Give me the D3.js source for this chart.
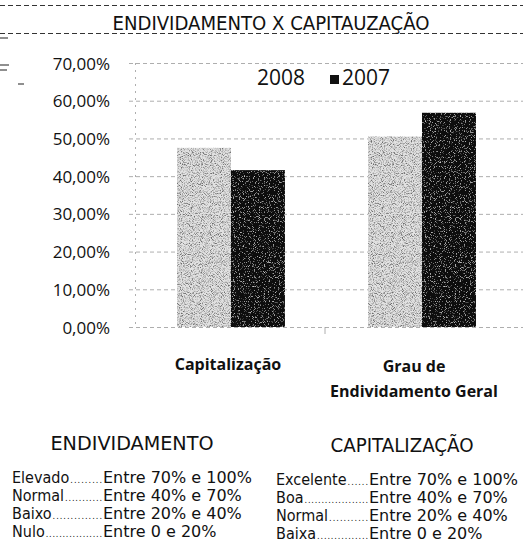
<!DOCTYPE html>
<html>
<head>
<meta charset="utf-8">
<script src="https://cdn.jsdelivr.net/npm/d3@7"></script>
<style>
  body { margin: 0; background: #fff; }
  svg { display: block; }
</style>
</head>
<body>
<div id="chart"></div>
<script>
// data
var categories = ["Capitalização", "Grau de Endividamento Geral"];
var catLines = [["Capitalização"], ["Grau de", "Endividamento Geral"]];
var years = ["2008", "2007"];
var values2008 = [0.475, 0.505];
var values2007 = [0.416, 0.568];
var yTicks = [0, 0.1, 0.2, 0.3, 0.4, 0.5, 0.6, 0.7];
var endivLabels = ["Elevado", "Normal", "Baixo", "Nulo"];
var endivRanges = ["Entre 70% e 100%", "Entre 40% e 70%", "Entre 20% e 40%", "Entre 0 e 20%"];
var capitLabels = ["Excelente", "Boa", "Normal", "Baixa"];
var capitRanges = ["Entre 70% e 100%", "Entre 40% e 70%", "Entre 20% e 40%", "Entre 0 e 20%"];

var w = 523, h = 549;
var svg = d3.select("#chart").append("svg").attr("width", w).attr("height", h);

var defs = svg.append("defs");
// grainy look of the scanned bars
function grain(id, freq, dotColor, gain, offset) {
  var f = defs.append("filter").attr("id", id).attr("x", 0).attr("y", 0).attr("width", 1).attr("height", 1);
  f.append("feTurbulence").attr("type", "fractalNoise").attr("baseFrequency", freq).attr("numOctaves", 1).attr("seed", 3).attr("result", "n");
  f.append("feColorMatrix").attr("in", "n").attr("type", "matrix")
    .attr("values", "0 0 0 0 " + dotColor + "  0 0 0 0 " + dotColor + "  0 0 0 0 " + dotColor + "  0 0 0 " + gain + " " + offset).attr("result", "dots");
  f.append("feComposite").attr("in", "dots").attr("in2", "SourceGraphic").attr("operator", "in").attr("result", "d2");
  f.append("feBlend").attr("in", "d2").attr("in2", "SourceGraphic").attr("mode", "normal");
}
grain("grainLight", 1.1, 0.15, 3.4, -1.5);
grain("grainDark", 1.2, 0.9, 3.0, -1.75);

// title band with dashed rules
svg.append("line").attr("x1", 0).attr("x2", w).attr("y1", 5.5).attr("y2", 5.5)
  .attr("stroke", "#333").attr("stroke-dasharray", "5,3");
svg.append("line").attr("x1", 0).attr("x2", w).attr("y1", 33.5).attr("y2", 33.5)
  .attr("stroke", "#333").attr("stroke-dasharray", "5,3");
svg.append("text").attr("x", 271).attr("y", 30).attr("text-anchor", "middle")
  .attr("font-family", "DejaVu Sans Condensed").attr("font-size", 19).attr("fill", "#111")
  .attr("textLength", 317).attr("lengthAdjust", "spacingAndGlyphs")
  .text("ENDIVIDAMENTO X CAPITAUZAÇÃO");
// scan marks at the left edge
[[0, 8, 38], [0, 9, 65], [0, 7, 70], [18, 24, 84]].forEach(function(m) {
  svg.append("line").attr("x1", m[0]).attr("x2", m[1]).attr("y1", m[2]).attr("y2", m[2])
    .attr("stroke", "#444").attr("stroke-width", 1.2);
});

var y = d3.scaleLinear().domain([0, 0.7]).range([327, 63]);
var x0 = d3.scaleBand().domain(categories).range([135, 518]).paddingInner(0.435).paddingOuter(0.22);
var x1 = d3.scaleBand().domain(years).range([0, x0.bandwidth()]);

// gridlines
svg.append("g").selectAll("line").data(yTicks).enter().append("line")
  .attr("x1", 129).attr("x2", w).attr("y1", function(d) { return y(d) + 0.5; }).attr("y2", function(d) { return y(d) + 0.5; })
  .attr("stroke", "#999").attr("stroke-width", 0.8).attr("stroke-dasharray", "4,3");
svg.append("line").attr("x1", 135.5).attr("x2", 135.5).attr("y1", y(0.7)).attr("y2", y(0))
  .attr("stroke", "#999").attr("stroke-width", 0.8).attr("stroke-dasharray", "2,5");

// y axis labels
var yAxis = d3.axisLeft(y).tickValues(yTicks).tickSize(0).tickPadding(0)
  .tickFormat(function(d) { return d3.format(".2f")(d * 100).replace(".", ",") + "%"; });
var ya = svg.append("g").attr("transform", "translate(110,0)").call(yAxis);
ya.select(".domain").remove();
ya.selectAll("text").attr("font-family", "Open Sans").attr("font-size", 17).attr("fill", "#111").attr("dy", "0.36em");

// bars
var rows = categories.map(function(c, i) { return { cat: c, v: [values2008[i], values2007[i]] }; });
var colors = { "2008": "#e2e2e2", "2007": "#111111" };
var grp = svg.append("g").selectAll("g").data(rows).enter().append("g")
  .attr("transform", function(d) { return "translate(" + x0(d.cat) + ",0)"; });
grp.selectAll("rect").data(function(d) { return years.map(function(yr, j) { return { yr: yr, v: d.v[j] }; }); })
  .enter().append("rect")
  .attr("x", function(d) { return x1(d.yr); })
  .attr("width", x1.bandwidth())
  .attr("y", function(d) { return y(d.v); })
  .attr("height", function(d) { return y(0) - y(d.v); })
  .attr("fill", function(d) { return colors[d.yr]; })
  .attr("filter", function(d) { return d.yr == "2008" ? "url(#grainLight)" : "url(#grainDark)"; });

// small separator tick
svg.append("line").attr("x1", 325).attr("x2", 325).attr("y1", y(0)).attr("y2", y(0) + 7)
  .attr("stroke", "#999").attr("stroke-width", 0.8);

// category labels
svg.append("g").selectAll("text").data(categories).enter().append("text")
  .attr("x", function(d, i) { return x0(d) + x0.bandwidth() / 2 - (i == 0 ? 3 : 8); })
  .attr("y", function(d, i) { return i == 0 ? 370 : 372; })
  .attr("text-anchor", "middle").attr("font-family", "Open Sans").attr("font-weight", "bold")
  .attr("font-size", 16).attr("fill", "#111")
  .each(function(d, i) {
    var t = d3.select(this);
    catLines[i].forEach(function(s, k) {
      t.append("tspan").attr("x", t.attr("x")).attr("dy", k == 0 ? 0 : 25).text(s);
    });
  });

// legend
svg.append("text").attr("x", 257).attr("y", 85).attr("font-family", "Open Sans").attr("font-size", 21)
  .attr("fill", "#111").text(years[0]);
svg.append("rect").attr("x", 330).attr("y", 75).attr("width", 9).attr("height", 9).attr("fill", colors["2007"]);
svg.append("text").attr("x", 342).attr("y", 85).attr("font-family", "Open Sans").attr("font-size", 21)
  .attr("fill", "#111").text(years[1]);

// reference tables
function table(x, entreX, cx, tw, title, labels, ranges, y0) {
  svg.append("text").attr("x", cx).attr("y", y0 - 33).attr("text-anchor", "middle")
    .attr("font-family", "DejaVu Sans Condensed").attr("font-size", 19).attr("fill", "#111")
    .attr("textLength", tw).attr("lengthAdjust", "spacingAndGlyphs").text(title);
  labels.forEach(function(lab, i) {
    var yy = y0 + i * 18;
    var t = svg.append("text").attr("x", x).attr("y", yy)
      .attr("font-family", "DejaVu Sans Condensed").attr("font-size", 16).attr("fill", "#111").text(lab);
    var lw = t.node().getComputedTextLength();
    var gap = entreX - (x + lw) - 2;
    var n = Math.max(2, Math.floor(gap / 3.3));
    svg.append("text").attr("x", x + lw + 1).attr("y", yy)
      .attr("font-family", "DejaVu Sans Condensed").attr("font-size", 9).attr("fill", "#111")
      .attr("textLength", gap).attr("lengthAdjust", "spacing").text(".".repeat(n));
    svg.append("text").attr("x", entreX).attr("y", yy)
      .attr("font-family", "DejaVu Sans").attr("font-size", 16).attr("fill", "#111").text(ranges[i]);
  });
}
table(12, 103, 132, 163, "ENDIVIDAMENTO", endivLabels, endivRanges, 483);
table(276, 369, 402, 143, "CAPITALIZAÇÃO", capitLabels, capitRanges, 485);
</script>
</body>
</html>
